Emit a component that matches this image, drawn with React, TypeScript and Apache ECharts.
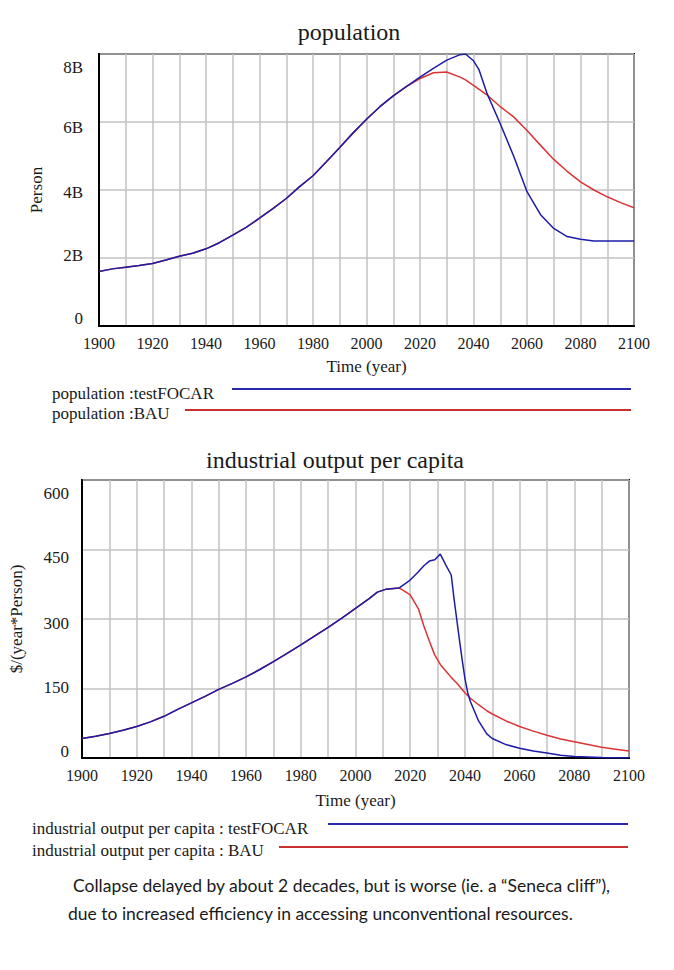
import React, { useEffect, useRef } from "react";
import * as echarts from "echarts";

// ---------- population chart data (billions of persons) ----------
const popYears = [1900, 1905, 1910, 1915, 1920, 1925, 1930, 1935, 1940, 1945, 1950, 1955, 1960, 1965, 1970, 1975, 1980, 1985, 1990, 1995, 2000, 2005, 2010, 2015, 2020, 2025, 2030, 2035, 2037, 2040, 2042, 2045, 2050, 2055, 2060, 2065, 2070, 2075, 2080, 2085, 2090, 2095, 2100];
const popTestFOCAR = [1.6, 1.68, 1.73, 1.78, 1.84, 1.94, 2.05, 2.14, 2.27, 2.45, 2.67, 2.9, 3.17, 3.45, 3.75, 4.1, 4.42, 4.83, 5.25, 5.68, 6.08, 6.45, 6.77, 7.05, 7.32, 7.58, 7.82, 7.98, 8.0, 7.8, 7.55, 6.85, 5.95, 5.0, 3.95, 3.28, 2.87, 2.63, 2.55, 2.5, 2.5, 2.5, 2.5];
const popBAU = [1.6, 1.68, 1.73, 1.78, 1.84, 1.94, 2.05, 2.14, 2.27, 2.45, 2.67, 2.9, 3.17, 3.45, 3.75, 4.1, 4.42, 4.83, 5.25, 5.68, 6.08, 6.45, 6.77, 7.05, 7.28, 7.45, 7.47, 7.32, 7.24, 7.08, 6.97, 6.8, 6.45, 6.15, 5.75, 5.32, 4.9, 4.55, 4.24, 4.0, 3.8, 3.63, 3.48];
const popTickValues = [0, 2, 4, 6, 8];
const popTickLabels = ["0", "2B", "4B", "6B", "8B"];

// ---------- industrial output per capita data ($/(year*Person)) ----------
const iopYears = [1900, 1905, 1910, 1915, 1920, 1925, 1930, 1935, 1940, 1945, 1950, 1955, 1960, 1965, 1970, 1975, 1980, 1985, 1990, 1995, 2000, 2005, 2008, 2011, 2016, 2020, 2023, 2025, 2027, 2029, 2031, 2033, 2035, 2036, 2037, 2038, 2039, 2040, 2041, 2042, 2045, 2048, 2050, 2055, 2060, 2065, 2070, 2075, 2080, 2085, 2090, 2095, 2100];
const iopTestFOCAR = [42, 47, 53, 60, 68, 78, 90, 105, 119, 133, 148, 161, 175, 191, 208, 226, 244, 263, 282, 302, 323, 344, 358, 364, 367, 384, 402, 415, 425, 428, 440, 417, 395, 345, 300, 255, 212, 172, 142, 122, 80, 52, 42, 29, 21, 15, 11, 6, 3, 2, 1, 0.5, 0.3];
const iopBAU = [42, 47, 53, 60, 68, 78, 90, 105, 119, 133, 148, 161, 175, 191, 208, 226, 244, 263, 282, 302, 323, 344, 358, 364, 367, 352, 322, 285, 252, 222, 202, 188, 174, 168, 162, 155, 148, 141, 135, 129, 115, 102, 95, 80, 68, 58, 49, 41, 35, 29, 23, 19, 15];
const iopTickValues = [0, 150, 300, 450, 600];
const iopTickLabels = ["0", "150", "300", "450", "600"];

const xYearsMin = 1900;
const xYearsMax = 2100;

const SERIF = "'Liberation Serif', 'Times New Roman', serif";
const SANS = "Lato, 'Open Sans', sans-serif";
const BLUE = "#1c1ca8";
const RED = "#dc3434";
const TXT = "#1a1a1a";

function shiftRich(shifts: number[], size: number) {
  const rich: Record<string, any> = {};
  shifts.forEach((s, i) => {
    rich["t" + i] = {
      fontFamily: SERIF,
      fontSize: size,
      color: TXT,
      padding: s >= 0 ? [2 * s, 0, 0, 0] : [0, 0, -2 * s, 0],
    };
  });
  return rich;
}

function xAxisFor(gridIndex: number, nameGap: number) {
  return {
    type: "value",
    gridIndex,
    min: xYearsMin,
    max: xYearsMax,
    interval: 10,
    name: "Time (year)",
    nameLocation: "middle",
    nameGap,
    nameTextStyle: { fontFamily: SERIF, fontSize: 17, color: TXT },
    axisLine: { show: true, lineStyle: { color: "#000", width: 2 } },
    axisTick: { show: false },
    axisLabel: {
      margin: 9,
      fontFamily: SERIF,
      fontSize: 16,
      color: TXT,
      showMinLabel: true,
      showMaxLabel: true,
      formatter: (v: number) => (v % 20 === 0 ? String(v) : ""),
    },
    splitLine: { show: true, lineStyle: { color: "#c2c2c2", width: 1.5 } },
  };
}

export default function App() {
  const ref = useRef<HTMLDivElement>(null);
  useEffect(() => {
    document.body.style.margin = "0";
    if (!ref.current) return;
    const chart = echarts.init(ref.current, undefined, { renderer: "svg" });
    const option: any = {
      animation: false,
      backgroundColor: "#fff",
      grid: [
        { left: 99, top: 54, width: 535, height: 272, show: true, borderColor: "#000", borderWidth: 2, backgroundColor: "transparent" },
        { left: 81, top: 480, width: 548, height: 278, show: true, borderColor: "#000", borderWidth: 2, backgroundColor: "transparent" },
      ],
      xAxis: [xAxisFor(0, 32), xAxisFor(1, 34)],
      yAxis: [
        {
          type: "value",
          gridIndex: 0,
          min: 0,
          max: 8,
          interval: 2,
          name: "Person",
          nameLocation: "middle",
          nameGap: 54,
          nameTextStyle: { fontFamily: SERIF, fontSize: 17, color: TXT },
          axisLine: { show: true, lineStyle: { color: "#000", width: 2 } },
          axisTick: { show: false },
          axisLabel: {
            margin: 16,
            showMinLabel: true,
            showMaxLabel: true,
            formatter: (v: number) => {
              const i = popTickValues.indexOf(v);
              return i < 0 ? "" : `{t${i}|${popTickLabels[i]}}`;
            },
            rich: shiftRich([-8, -3, 2, 5, 13], 17),
          },
          splitLine: { show: true, lineStyle: { color: "#c2c2c2", width: 1.5 } },
        },
        {
          type: "value",
          gridIndex: 1,
          min: 0,
          max: 600,
          interval: 150,
          name: "$/(year*Person)",
          nameLocation: "middle",
          nameGap: 57,
          nameTextStyle: { fontFamily: SERIF, fontSize: 17, color: TXT },
          axisLine: { show: true, lineStyle: { color: "#000", width: 2 } },
          axisTick: { show: false },
          axisLabel: {
            margin: 13,
            showMinLabel: true,
            showMaxLabel: true,
            formatter: (v: number) => {
              const i = iopTickValues.indexOf(v);
              return i < 0 ? "" : `{t${i}|${iopTickLabels[i]}}`;
            },
            rich: shiftRich([-7, -1, 4, 8, 13], 17),
          },
          splitLine: { show: true, lineStyle: { color: "#c2c2c2", width: 1.5 } },
        },
      ],
      series: [
        {
          name: "population :BAU",
          type: "line",
          xAxisIndex: 0,
          yAxisIndex: 0,
          showSymbol: false,
          lineStyle: { color: RED, width: 1.5 },
          data: popYears.map((y, i) => [y, popBAU[i]]),
        },
        {
          name: "population :testFOCAR",
          type: "line",
          xAxisIndex: 0,
          yAxisIndex: 0,
          showSymbol: false,
          lineStyle: { color: BLUE, width: 1.5 },
          data: popYears.map((y, i) => [y, popTestFOCAR[i]]),
        },
        {
          name: "industrial output per capita : BAU",
          type: "line",
          xAxisIndex: 1,
          yAxisIndex: 1,
          showSymbol: false,
          lineStyle: { color: RED, width: 1.5 },
          data: iopYears.map((y, i) => [y, iopBAU[i]]),
        },
        {
          name: "industrial output per capita : testFOCAR",
          type: "line",
          xAxisIndex: 1,
          yAxisIndex: 1,
          showSymbol: false,
          lineStyle: { color: BLUE, width: 1.5 },
          data: iopYears.map((y, i) => [y, iopTestFOCAR[i]]),
        },
      ],
      graphic: [
        { type: "text", x: 349, y: 32, style: { text: "population", fontFamily: SERIF, fontSize: 24, fill: TXT, textAlign: "center", textVerticalAlign: "middle" } },
        { type: "text", x: 335, y: 460, style: { text: "industrial output per capita", fontFamily: SERIF, fontSize: 24, fill: TXT, textAlign: "center", textVerticalAlign: "middle" } },
        // population legend
        { type: "text", x: 52, y: 393, style: { text: "population :testFOCAR", fontFamily: SERIF, fontSize: 17, fill: TXT, textAlign: "left", textVerticalAlign: "middle" } },
        { type: "line", shape: { x1: 232, y1: 389, x2: 631, y2: 389 }, style: { stroke: "#2828a8", lineWidth: 2 } },
        { type: "text", x: 52, y: 413, style: { text: "population :BAU", fontFamily: SERIF, fontSize: 17, fill: TXT, textAlign: "left", textVerticalAlign: "middle" } },
        { type: "line", shape: { x1: 185, y1: 410, x2: 631, y2: 410 }, style: { stroke: "#c83030", lineWidth: 2 } },
        // iop legend
        { type: "text", x: 32, y: 828, style: { text: "industrial output per capita : testFOCAR", fontFamily: SERIF, fontSize: 17, fill: TXT, textAlign: "left", textVerticalAlign: "middle" } },
        { type: "line", shape: { x1: 328, y1: 824, x2: 628, y2: 824 }, style: { stroke: "#2828a8", lineWidth: 2 } },
        { type: "text", x: 32, y: 850, style: { text: "industrial output per capita : BAU", fontFamily: SERIF, fontSize: 17, fill: TXT, textAlign: "left", textVerticalAlign: "middle" } },
        { type: "line", shape: { x1: 279, y1: 847, x2: 628, y2: 847 }, style: { stroke: "#c83030", lineWidth: 2 } },
        // caption
        { type: "text", x: 73, y: 885, style: { text: "Collapse delayed by about 2 decades, but is worse (ie. a \u201cSeneca cliff\u201d),", fontFamily: SANS, fontSize: 17.5, fill: TXT, textAlign: "left", textVerticalAlign: "middle" } },
        { type: "text", x: 68, y: 913, style: { text: "due to increased efficiency in accessing unconventional resources.", fontFamily: SANS, fontSize: 17.5, fill: TXT, textAlign: "left", textVerticalAlign: "middle" } },
      ],
    };
    chart.setOption(option);
    return () => chart.dispose();
  }, []);
  return <div ref={ref} style={{ width: 674, height: 970 }} />;
}
